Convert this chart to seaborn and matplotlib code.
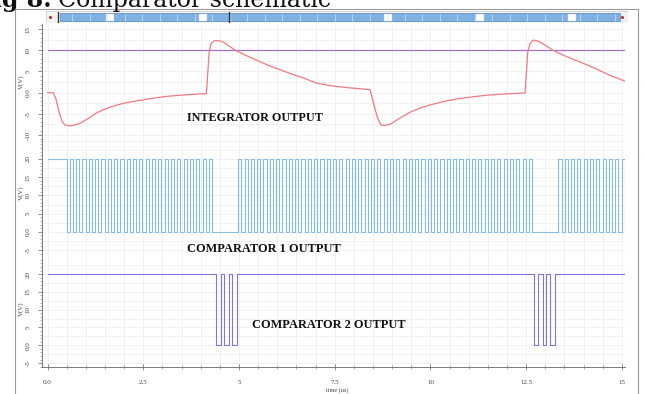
import numpy as np
import pandas as pd
import matplotlib
matplotlib.use("Agg")
import matplotlib.pyplot as plt
import seaborn as sns
from matplotlib.ticker import MultipleLocator
from matplotlib.patches import Rectangle
from matplotlib.lines import Line2D

# ---------------- data ----------------
INT_T = [0.0, 0.15, 0.22, 0.30, 0.38, 0.46, 0.60, 0.75, 0.90, 1.10, 1.30, 1.50,
         1.75, 2.00, 2.30, 2.70, 3.10, 3.50, 3.90, 4.15, 4.18, 4.22, 4.27, 4.35,
         4.45, 4.60, 4.90, 5.20, 5.50, 5.80, 6.10, 6.40, 6.70, 7.00, 7.40, 7.80,
         8.10, 8.42, 8.50, 8.60, 8.70, 8.80, 8.95, 9.10, 9.30, 9.50, 9.75, 10.00,
         10.30, 10.60, 11.00, 11.50, 12.00, 12.47, 12.50, 12.54, 12.60, 12.68,
         12.80, 13.00, 13.20, 13.50, 13.80, 14.10, 14.40, 14.70, 15.08]
INT_V = [0.0, -0.05, -1.5, -4.5, -6.8, -7.7, -7.85, -7.6, -7.0, -5.9, -4.7, -3.9,
         -3.1, -2.5, -2.0, -1.4, -0.9, -0.6, -0.35, -0.25, 4.0, 9.5, 11.5, 12.2,
         12.3, 11.9, 10.0, 8.7, 7.5, 6.3, 5.3, 4.3, 3.4, 2.3, 1.6, 1.2,
         0.95, 0.7, -2.0, -5.5, -7.6, -7.8, -7.5, -6.6, -5.5, -4.5, -3.6, -2.9,
         -2.2, -1.65, -1.1, -0.6, -0.3, -0.1, 4.0, 9.5, 11.6, 12.4,
         12.2, 11.2, 10.0, 8.7, 7.6, 6.5, 5.3, 4.0, 2.7]
THRESHOLD_V = 10.0

COMP1_HIGH = 20.0
COMP1_LOW = 0.0
COMP1_PERIOD_US = 0.165
COMP1_BURSTS = [(0.50, 4.33), (4.98, 12.64), (13.34, 15.08)]

COMP2_HIGH = 20.0
COMP2_LOW = 0.0
COMP2_LOW_PULSES = [(4.40, 4.52), (4.61, 4.73), (4.83, 4.96),
                    (12.71, 12.82), (12.93, 13.03), (13.12, 13.25)]

T_END = 15.08

X_TICKS = [0, 2.5, 5, 7.5, 10, 12.5, 15]
X_TICK_LABELS = ["0.0", "2.5", "5", "7.5", "10", "12.5", "15"]
Y1_TICKS = [15, 10, 5, 0, -5, -10]
Y1_LABELS = ["15", "10", "5", "0.0", "-5", "-10"]
Y2_TICKS = [20, 15, 10, 5, 0, -5]
Y2_LABELS = ["20", "15", "10", "5", "0.0", "-5"]
Y3_TICKS = [20, 15, 10, 5, 0, -5]
Y3_LABELS = ["20", "15", "10", "5", "0.0", "-5"]

# ---------------- build tables ----------------
df_int = pd.DataFrame({"t": INT_T, "v": INT_V})
df_thr = pd.DataFrame({"t": [0.0, T_END], "v": [THRESHOLD_V, THRESHOLD_V]})


def flip(s):
    return COMP1_LOW if s == COMP1_HIGH else COMP1_HIGH


t1, v1 = [0.0], [COMP1_HIGH]
state = COMP1_HIGH
for a, b in COMP1_BURSTS:
    for e in np.arange(a, b, COMP1_PERIOD_US / 2):
        t1 += [e, e]
        v1 += [state, flip(state)]
        state = flip(state)
    if b < T_END and state != COMP1_LOW:
        t1 += [b, b]
        v1 += [state, COMP1_LOW]
        state = COMP1_LOW
t1.append(T_END)
v1.append(state)
df_c1 = pd.DataFrame({"t": t1, "v": v1})

t2, v2 = [0.0], [COMP2_HIGH]
for a, b in COMP2_LOW_PULSES:
    t2 += [a, a, b, b]
    v2 += [COMP2_HIGH, COMP2_LOW, COMP2_LOW, COMP2_HIGH]
t2.append(T_END)
v2.append(COMP2_HIGH)
df_c2 = pd.DataFrame({"t": t2, "v": v2})

# ---------------- figure ----------------
sns.set_theme(style="white")
plt.rcParams["font.family"] = ["Liberation Serif", "DejaVu Serif"]

W, H = 646, 394
fig = plt.figure(figsize=(W / 100, H / 100), dpi=100)
fig.patch.set_facecolor("white")


def rect(l, t, r, b):
    return [l / W, 1 - b / H, (r - l) / W, (b - t) / H]


XL, XR = 42, 625
ax1 = fig.add_axes(rect(XL, 24, XR, 140))
ax2 = fig.add_axes(rect(XL, 140, XR, 257))
ax3 = fig.add_axes(rect(XL, 257, XR, 367))

sns.lineplot(data=df_thr, x="t", y="v", ax=ax1, color="#a36fd0", linewidth=0.9,
             estimator=None, sort=False)
sns.lineplot(data=df_int, x="t", y="v", ax=ax1, color="#f07a80", linewidth=0.9,
             estimator=None, sort=False)
sns.lineplot(data=df_c1, x="t", y="v", ax=ax2, color="#86bbe6", linewidth=0.8,
             estimator=None, sort=False)
sns.lineplot(data=df_c2, x="t", y="v", ax=ax3, color="#7c78dc", linewidth=0.8,
             estimator=None, sort=False)

setups = [
    (ax1, (-11.2, 16.2), Y1_TICKS, Y1_LABELS, 82),
    (ax2, (-6.9, 25.2), Y2_TICKS, Y2_LABELS, 193),
    (ax3, (-6.1, 24.8), Y3_TICKS, Y3_LABELS, 309),
]
for ax, ylim, yt, yl, ylab_y in setups:
    ax.set_xlim(-0.144, T_END)
    ax.set_ylim(*ylim)
    ax.set_facecolor("white")
    ax.set_xlabel("")
    ax.set_ylabel("")
    ax.set_yticks(yt)
    ax.set_yticklabels(yl, rotation=90, va="center", fontsize=5, color="#444444")
    ax.yaxis.set_minor_locator(MultipleLocator(1))
    ax.xaxis.set_minor_locator(MultipleLocator(0.5))
    ax.set_xticks(X_TICKS)
    ax.grid(True, which="both", axis="x", color="#ececec", linewidth=0.5)
    for yy in np.arange(np.ceil(ylim[0] / 2.5) * 2.5, ylim[1], 2.5):
        ax.axhline(yy, color="#ececec", linewidth=0.5, zorder=0)
    ax.set_axisbelow(True)
    for s in ["top", "right", "bottom"]:
        ax.spines[s].set_visible(False)
    ax.spines["left"].set_color("#666666")
    ax.spines["left"].set_linewidth(0.6)
    ax.tick_params(axis="y", which="major", left=True, length=3, width=0.5,
                   color="#666666", pad=5)
    ax.tick_params(axis="y", which="minor", left=True, length=1.5, width=0.4,
                   color="#777777")
    fig.text(21 / W, 1 - ylab_y / H, "V(V)", rotation=90, fontsize=5,
             ha="center", va="center", color="#444444")
    if ax is not ax3:
        ax.tick_params(axis="x", which="both", bottom=False, labelbottom=False)

ax3.spines["bottom"].set_visible(True)
ax3.spines["bottom"].set_color("#666666")
ax3.spines["bottom"].set_linewidth(0.6)
ax3.set_xticklabels(X_TICK_LABELS, fontsize=5, color="#444444")
ax3.tick_params(axis="x", which="major", bottom=True, length=4, width=0.5,
                direction="inout", color="#666666", pad=7)
ax3.tick_params(axis="x", which="minor", bottom=True, length=3, width=0.4,
                direction="inout", color="#777777")
fig.text(337 / W, 1 - 390 / H, "time (us)", fontsize=4.5, ha="center",
         va="center", color="#444444")

# in-plot annotations
ax1.text(3.64, -5.9, "INTEGRATOR OUTPUT", fontsize=8.7, fontweight="bold",
         va="center", ha="left", color="#111111")
ax2.text(3.64, -4.7, "COMPARATOR 1 OUTPUT", fontsize=8.9, fontweight="bold",
         va="center", ha="left", color="#111111")
ax3.text(5.34, 5.6, "COMPARATOR 2 OUTPUT", fontsize=8.9, fontweight="bold",
         va="center", ha="left", color="#111111")

# scroll bar decoration
axs = fig.add_axes(rect(46, 11, 628, 23))
axs.set_xlim(46, 628)
axs.set_ylim(23, 11)
axs.axis("off")
axs.add_patch(Rectangle((46, 11), 582, 12, facecolor="#f2f2f2", edgecolor="#c8c8c8",
                        linewidth=0.5))
axs.add_patch(Rectangle((60, 13), 560, 8, facecolor="#7fb2e2", edgecolor="#4f86c0",
                        linewidth=0.5))
for xs in np.arange(72, 620, 17.5):
    axs.plot([xs, xs], [13.5, 20.5], color="#cfe2f5", linewidth=0.5)
for xs in [110, 203, 388, 480, 572]:
    axs.add_patch(Rectangle((xs - 4, 13.5), 8, 7, facecolor="white",
                            edgecolor="#cccccc", linewidth=0.3))
for xs in [58, 229]:
    axs.plot([xs, xs], [11.5, 22.5], color="#333333", linewidth=1.0)
axs.plot([50], [17], marker="o", markersize=1.2, color="#b03030")
axs.plot([622], [17], marker="o", markersize=1.2, color="#b03030")

# window frame
for xs, ys in [([15, 15], [9, 394]), ([15, 638], [9, 9]), ([638, 638], [9, 394])]:
    fig.add_artist(Line2D([x / W for x in xs], [1 - y / H for y in ys],
                          transform=fig.transFigure, color="#9a9a9a", linewidth=0.8))

# caption (cut off at top as in the reference)
fig.text(52 / W, 1 - 7 / H, "Fig 8:", fontsize=17, fontweight="bold",
         family=["DejaVu Serif"], va="baseline", ha="right", color="#111111")
fig.text(58 / W, 1 - 7 / H, "Comparator schematic", fontsize=17,
         family=["DejaVu Serif"], va="baseline", ha="left", color="#111111")

fig.savefig("out.png", dpi=100, facecolor="white")
